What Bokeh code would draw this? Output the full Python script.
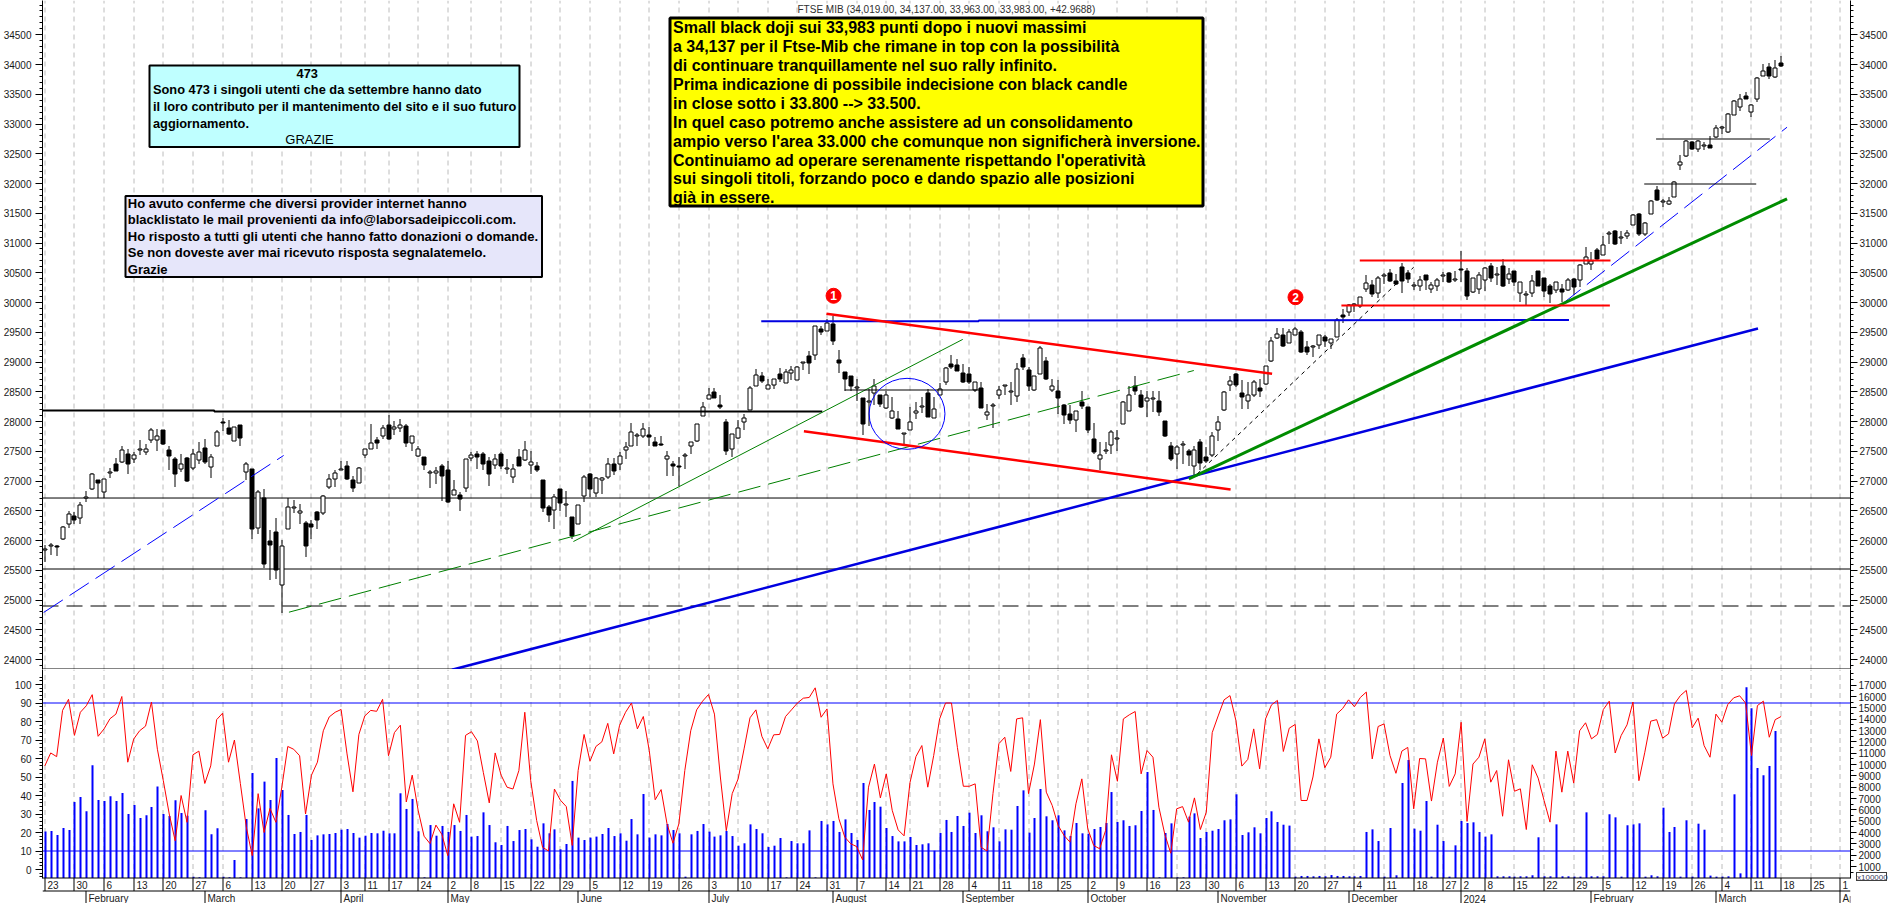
import math
from bokeh.plotting import figure
from bokeh.layouts import column
from bokeh.models import Range1d, LinearAxis, FixedTicker, Div
from bokeh.core.properties import value
from bokeh.embed import file_html
from bokeh.resources import INLINE

opens = [25840,25910,25910,26030,26270,26410,26370,26710,26870,27010,
26820,27130,27290,27320,27460,27370,27520,27490,27690,27690,
27860,27520,27370,27200,27390,27220,27360,27560,27230,27590,
27980,27890,27680,27940,27150,27200,26210,26720,25990,26140,
25260,26190,26540,26460,26300,26280,26480,26460,26900,27040,
27190,27260,27020,26970,27430,27540,27690,27750,27940,27870,
27890,27930,27640,27420,27400,27130,27130,27260,27180,26760,
26770,26880,27380,27460,
27450,27330,27270,27460,27200,27060,27400,27360,27270,27250,
27010,26570,26510,26870,26600,26400,26280,26750,27120,26800,
27020,27060,27290,27290,27520,27590,27760,27760,27765,27660,
27625,27370,27280,27260,27420,27580,27680,28100,28380,28490,
28280,27990,27540,27730,27990,28200,28600,28770,28550,28620,
28800,28650,28820,28700,28990,29100,29120,29550,29520,29640,
29040,28830,28770,28570,28400,28330,28480,28450,28220,28060,
28050,27790,27860,28150,28250,28480,28060,28440,28660,28960,
28950,
28820,28800,28530,28570,28110,28260,28450,28600,28490,28430,
29060,28870,28530,28800,29010,28530,28520,28270,28120,28030,
28320,28250,27710,27370,27510,27610,27710,27960,28170,28590,
28440,28340,28380,28350,28010,27580,27460,27600,27500,27250,
27650,27400,27430,27850,28200,28620,28790,28480,28340,28440,
28570,28630,29020,29400,29460,29320,29460,29510,29260,29250,
29290,29420,29320,29420,29790,29840,29960,29940,30220,30300,
30160,30450,30500,30360,30600,30500,30275,30275,30465,30220,
30275,
30440,30500,30380,30560,30530,30175,30230,30380,30610,30470,
30610,30400,30530,30160,30120,30160,30530,30415,30285,30215,
30225,30215,30400,30380,30650,30640,30885,30800,31155,31195,
31080,31125,31310,31490,31155,31490,31895,31685,31655,31770,
32310,32455,32700,32580,32635,32650,32780,32925,32865,33155,
33285,33475,33200,33420,33810,33955,33790,34019]

highs = [25920,25950,25920,26240,26490,26480,26640,26840,27130,27020,
27040,27220,27390,27590,27540,27480,27690,27620,27890,27880,
27860,27580,27410,27460,27400,27540,27660,27710,27450,27850,
28060,28030,27900,27940,27320,27200,26850,26860,26180,26380,
26010,26720,26680,26620,26320,26350,26490,26760,27110,27190,
27330,27340,27090,27230,27540,27950,27740,27940,28110,28010,
28050,27950,27760,27590,27400,27190,27240,27290,27340,27020,
26820,27370,27480,27510,
27480,27400,27450,27480,27370,27280,27540,27680,27500,27320,
27010,26590,26780,26870,26830,26400,26600,27100,27130,27060,
27060,27390,27390,27490,27650,27980,27800,27980,27900,27740,
27750,27510,27330,27400,27470,27650,27960,28330,28570,28570,
28440,28040,27790,28020,28120,28590,28890,28840,28720,28710,
28900,28890,28930,28930,28990,29180,29610,29610,29730,29780,
29210,28830,28770,28710,28400,28550,28710,28450,28520,28420,
28180,27800,28240,28320,28410,28550,28420,28650,28920,29120,
29050,
28970,28910,28670,28660,28300,28310,28590,28620,28660,28980,
29140,28920,28770,29270,29090,28720,28690,28300,28270,28170,
28520,28250,27970,27650,27650,27850,27850,28350,28590,28760,
28530,28520,28520,28520,28010,27650,27600,27670,27540,27580,
27710,27570,27820,28090,28520,28760,28820,28700,28660,28690,
28720,28930,29420,29570,29570,29560,29590,29540,29360,29290,
29460,29460,29380,29740,29890,29980,30000,30090,30470,30380,
30440,30490,30570,30480,30670,30540,30340,30450,30465,30340,
30415,
30510,30510,30530,30870,30580,30415,30510,30595,30670,30595,
30730,30580,30530,30340,30190,30470,30530,30415,30315,30340,
30315,30415,30415,30650,30940,30845,30920,31110,31200,31220,
31200,31220,31480,31500,31350,31715,31965,31745,31780,32045,
32480,32725,32710,32735,32695,32790,32990,32960,33190,33405,
33510,33535,33340,33790,34010,34030,34070,34137]

lows = [25640,25750,25740,26010,26210,26280,26270,26640,26850,26720,
26720,27050,27160,27310,27110,27300,27440,27440,27640,27500,
27610,27190,26900,27150,26980,27180,27290,27290,27050,27590,
27840,27780,27670,27590,27010,26030,26110,25540,25340,25350,
24780,26190,26460,26280,25720,26020,26200,26430,26870,26900,
27180,27020,26810,26970,27380,27530,27540,27710,27690,27770,
27820,27570,27500,27400,27180,26880,26950,26670,26630,26760,
26500,26810,27330,27210,
27190,26910,27200,27200,27120,26970,27250,27340,27120,27150,
26480,26310,26200,26500,26400,26030,26280,26650,26730,26730,
26780,27030,27100,27180,27370,27580,27580,27730,27580,27590,
27580,27090,27080,26910,27200,27460,27650,28090,28380,28400,
28210,27440,27400,27710,27860,28200,28600,28650,28550,28550,
28660,28650,28690,28690,28860,28800,29040,29460,29520,29280,
28820,28510,28510,28340,27780,27920,28270,28250,28210,28040,
27870,27620,27850,28050,28150,28080,28060,28440,28610,28880,
28850,
28650,28630,28490,28220,28020,27890,28380,28440,28270,28330,
28860,28520,28520,28790,28690,28490,28120,27960,27950,27820,
28210,27800,27460,27180,27460,27460,27500,27950,28170,28450,
28220,28080,28160,28100,27740,27340,27200,27290,27260,27090,
27180,27300,27400,27680,28180,28520,28580,28210,28210,28410,
28410,28620,29000,29390,29260,29320,29450,29150,29110,29090,
29220,29250,29220,29420,29650,29770,29840,29910,30170,30090,
30080,30310,30340,30290,30160,30330,30210,30200,30210,30160,
30200,
30340,30330,30340,30340,30050,30160,30135,30200,30340,30300,
30260,30315,30285,30005,29965,30090,30275,30090,29990,30160,
30005,30190,30120,30260,30650,30540,30720,30790,30985,30960,
30985,31060,31295,31125,31110,31480,31705,31600,31640,31770,
32220,32445,32565,32530,32555,32595,32760,32835,32845,33145,
33215,33420,33125,33370,33800,33755,33775,33963]

closes = [25850,25920,25890,26230,26450,26350,26600,26720,27110,26970,
27030,27140,27170,27520,27290,27440,27530,27540,27860,27760,
27630,27420,27120,27290,27000,27460,27490,27320,27410,27830,
27970,27790,27900,27730,27290,26200,26810,25600,25930,25510,
25910,26560,26550,26500,25910,26230,26350,26750,27030,27130,
27190,27030,26880,27220,27530,27640,27640,27890,27700,27910,
27940,27640,27760,27540,27270,27140,27170,27080,26640,26850,
26690,27370,27440,27400,
27290,27110,27370,27250,27210,27200,27250,27520,27320,27180,
26540,26430,26730,26630,26600,26070,26600,27070,26860,27050,
27050,27290,27170,27420,27570,27830,27760,27880,27740,27590,
27600,27420,27250,27240,27430,27650,27950,28240,28440,28400,
28240,27510,27790,27890,28060,28570,28780,28680,28610,28710,
28710,28830,28870,28910,28990,28990,29600,29510,29650,29360,
28980,28710,28590,28570,27950,28330,28590,28290,28440,28170,
27880,27790,27990,28180,28250,28080,28210,28550,28900,28920,
28850,
28660,28660,28670,28220,28160,28260,28530,28600,28490,28890,
28910,28590,28770,29240,28710,28590,28400,28110,28020,28170,
28260,27850,27480,27440,27510,27830,27710,28330,28440,28510,
28240,28400,28380,28160,27760,27370,27570,27600,27440,27520,
27300,27340,27760,27990,28500,28680,28610,28410,28440,28670,
28510,28930,29350,29470,29270,29510,29550,29160,29160,29250,
29450,29350,29380,29700,29750,29950,29960,30090,30330,30150,
30410,30450,30360,30310,30360,30400,30275,30380,30370,30300,
30370,
30440,30340,30380,30545,30110,30415,30455,30580,30415,30470,
30270,30480,30340,30340,30120,30360,30285,30190,30145,30340,
30175,30380,30260,30635,30760,30705,30730,30970,31155,30975,
31080,31170,31470,31145,31340,31705,31730,31685,31710,32020,
32360,32710,32580,32710,32635,32595,32935,32925,33170,33380,
33420,33420,33320,33775,33890,33800,33945,33983]

oscillator = [56,63,61,86,92,72.5,85,88.5,94.5,72,76,81.5,84,93.5,58,70.5,75,77.5,90.5,65,
48,30,15.5,40,25.5,62,64,46.5,56,81,84.5,58,70,46.5,23,7.5,41,20,33,25.5,
44.5,66.5,65,61.5,30,51,58,75,82.5,85,86.5,62.5,42,73,83,86,85.5,92,61.5,74,
78,36.5,51,32,18,14,24,19,7.5,35.5,25.5,72.5,74.5,69.5,52.5,36,63,51,44.5,43.5,
53.5,85,48,26.5,12,10,43.5,37.5,34,13,53.5,73,58.5,66.5,69,79,62.5,78,85,
90,76,82.7,64.3,37.7,43.2,24.7,14.2,24.7,53.5,75,86.3,91,94.6,84,50,21,41,49,65.2,82,
86.3,72,65.2,72.8,73,82.7,86.3,90,92.6,93,98.2,82.3,86.8,46.3,27.4,17.5,13.9,12.4,5.2,44.5,
57,38.7,51.7,32,21.4,18.2,47,61,67,44.5,61.6,81.4,90,90,66,45,45,46.3,12,10,
41,68,71.5,53,81.4,82,41,57,81,41.8,34.6,23.8,18.4,14.8,35.5,49,22,13,11.2,21,
62,47.7,81.4,83.6,85.4,51.7,64.3,60.7,33.7,19,8.8,32.8,34,25.6,38.7,21.6,31,74,83,91.7,
94,80.5,55.9,59.5,76,54.4,81.4,89,91.4,63.8,76.4,78.4,37.3,37.3,50,70.6,55,60.7,84,87,
91.7,88,93,95.9,59.8,77.3,78.7,61.6,52,64,66,32.8,60,59.8,37,58,71,44.9,51.7,79.6,
26,57,60.7,70.6,47.2,53.5,28.8,59.3,42.3,43.6,21.6,56.6,49.4,37.3,25.6,64,41.8,64,46.7,75,
79.3,70.6,73,86.5,91,63,72.4,78.2,90.5,48,63.4,80.2,81,71,73.3,89.5,94,96.8,76.6,81.8,
67,60.7,84,79.6,89.2,92.8,93.9,90,61.6,88.6,91,71.5,81,82.7]

volume = [4090,4150,3790,4410,4230,6700,7140,5880,9940,6880,6790,7200,6790,7500,5640,6440,5290,5530,6260,8060,
5640,5470,6850,5730,5500,100,60,5970,3850,4380,120,60,1590,60,5200,9260,6140,8500,6880,10580,
7760,5560,3880,4060,5560,3350,3760,3850,3880,3970,4260,4320,3970,3560,3730,3970,3940,4170,3940,3940,
7470,6090,6970,4120,60,4670,3730,4590,4060,4670,4150,5560,3650,3700,5790,4670,3150,2910,4590,3260,
4230,4320,3410,2760,4820,3940,4290,2530,3000,8560,3560,3350,3560,3650,3880,4410,3700,3940,3290,
5200,3850,7410,3560,3850,3760,4760,4230,3940,120,3850,4150,4760,4090,3650,3760,4150,3700,2850,3060,
4730,4320,3940,2730,2850,3530,60,3260,3060,3060,4200,60,5030,4730,5030,4060,5170,3970,3350,8380,
6000,6700,6290,4410,3700,3230,3230,3620,2910,2970,3060,2410,3970,5120,4060,5470,4590,5760,3970,5530,
4120,4470,3230,4290,4260,6350,7730,4000,5290,7850,5440,5090,5530,4200,3700,4850,3940,3910,4320,4500,
4850,7580,4940,5090,4590,4650,5910,9350,6000,60,3970,4820,60,60,5410,5700,3530,4060,4170,4320,
5090,5170,7380,3790,4030,4470,3940,5290,5880,4940,4700,4620,120,180,180,150,180,150,260,180,
180,150,150,180,4060,4290,3260,120,4410,240,8380,10400,4350,4170,6790,120,4700,3260,120,2880,
5030,4850,4910,4060,3650,3850,150,150,150,120,150,150,240,3590,150,150,4730,150,150,120,
120,5790,150,150,150,5620,5350,120,4650,4730,4820,120,240,150,6200,4060,4500,120,5090,120,
4790,4260,210,120,120,150,7380,410,16820,14960,9700,9060,9880,12970,0]

day_ticks = [0,5,10,15,20,25,30,35,40,45,50,54,58,63,68,72,77,82,87,92,
97,102,107,112,117,122,127,132,137,142,146,151,156,161,166,171,176,181,186,191,
196,201,206,211,216,221,226,231,236,239,243,248,253,258,263,268,273,278,283,288,293,298,303]
day_labels = ["23","30","6","13","20","27","6","13","20","27","3","11","17","24","2","8","15","22","29","5",
"12","19","26","3","10","17","24","31","7","14","21","28","4","11","18","25","2","9","16","23",
"30","6","13","20","27","4","11","18","27","2","8","15","22","29","5","12","19","26","4","11","18","25","1"]
month_ticks = [7,27,50,68,90,112,133,155,176,198,220,239,261,282,303]
month_labels = ["February","March","April","May","June","July","August","September","October","November","December","2024","February","March","Ap"]

price_levels = [26714, 25521]
dashed_level = 24899
panel_floor = 23840
osc_levels = [90, 10]

heavy_black_x = [-0.39,28.6,28.6,131.2]
heavy_black_y = [28185,28185,28170,28170]
blue_dash_a = ([-0.2,40.3],[24790,27429])
blue_dash_b = ([256.1,294.0],[29978,32946])
green_thin = ([89.2,154.9],[25983,29380])
green_dash = ([41.2,193.9],[24795,28857])
red_upper = ([131.9,207.1],[29810,28802])
red_lower = ([128.1,200.1],[27837,26857])
blue_flat = ([120.9,157.6,157.6,257.2],[29686,29686,29697,29706])
blue_long = ([68.7,289.1],[23827,29563])
green_thick = ([193.05,294.0],[27037,31743])
black_dash = ([194.5,231.0],[27121,30593])
red_flat_top = ([221.9,264.2],[30706,30706])
red_flat_bottom = ([218.8,264.1],[29950,29950])
black_flats = [([269.9,288.8],[31995,31995]),([271.9,291.1],[32751,32751]),([135.0,157.9],[28533,28533])]
circle_pos = (145.5, 28129, 12.8, 1193)
markers = [(133.1,30113,"1"),(211.05,30089,"2")]

title_text = "FTSE MIB (34,019.00, 34,137.00, 33,963.00, 33,983.00, +42.9688)"
yellow_lines = ["Small black doji sui 33,983 punti dopo i nuovi massimi",
"a 34,137 per il Ftse-Mib che rimane in top con la possibilità",
"di continuare tranquillamente nel suo rally infinito.",
"Prima indicazione di possibile indecisione con black candle",
"in close sotto i 33.800 --> 33.500.",
"In quel caso potremo anche assistere ad un consolidamento",
"ampio verso l'area 33.000 che comunque non significherà inversione.",
"Continuiamo ad operare serenamente rispettando l'operatività",
"sui singoli titoli, forzando poco e dando spazio alle posizioni",
"già in essere."]
cyan_lines = ["Sono 473 i singoli utenti che da settembre hanno dato",
"il loro contributo per il mantenimento del sito e il suo futuro",
"aggiornamento."]
lav_lines = ["Ho avuto conferme che diversi provider internet hanno",
"blacklistato le mail provenienti da info@laborsadeipiccoli.com.",
"Ho risposto a tutti gli utenti che hanno fatto donazioni o domande.",
"Se non doveste aver mai ricevuto risposta segnalatemelo.",
"Grazie"]

# page-pixel helpers, used for layout and for snapping to whole pixels
X0, DX = 44.3, 5.926
def ix(x): return (x - X0) / DX
def py(y): return 34000 - (y - 64) / 0.0595
def oy(y): return (869 - y) / 1.85
def px_x(i): return math.floor(X0 + DX * i) + 0.5
def snap_i(i): return ix(px_x(i))
def px_y(v): return math.floor(64 + (34000 - v) * 0.0595) + 0.5

FONT = value("Liberation Sans")
n = len(closes)
xs = list(range(n))
AXC = "#1a1a1a"
GRID = "#bcbcbc"
XL, XR = ix(42), ix(1850)

p = figure(width=1890, height=669, x_range=Range1d(XL, XR), y_range=Range1d(py(669), py(0)),
           output_backend="svg", toolbar_location=None, min_border=0, min_border_left=42, min_border_right=40,
           min_border_top=0, min_border_bottom=0, outline_line_color=None, x_axis_location=None, y_axis_location=None)
p.grid.visible = False

price_ticks = list(range(24000, 35000, 500))
price_minor = list(range(23900, 35100, 100))
for side, standoff in (("left", 4), ("right", 2)):
    ax = LinearAxis(ticker=FixedTicker(ticks=price_ticks, minor_ticks=price_minor))
    ax.major_tick_in = 0; ax.major_tick_out = 7; ax.minor_tick_in = 0; ax.minor_tick_out = 3
    ax.major_label_text_font = "Liberation Sans"; ax.major_label_text_font_size = "10px"
    ax.major_label_text_color = AXC; ax.major_label_standoff = standoff
    p.add_layout(ax, side)

grid_x = [snap_i(t) for t in day_ticks]
p.segment(x0=grid_x, x1=grid_x, y0=[py(669)]*len(grid_x), y1=[py(0)]*len(grid_x),
          line_color=GRID, line_width=1, line_dash="5 4")

for lv in price_levels + [panel_floor]:
    p.line([XL, XR], [lv, lv], line_color="black", line_width=1)
p.line([XL, XR], [dashed_level, dashed_level], line_color="black", line_width=1, line_dash="16 8")

# candles, snapped to whole pixels as the original GDI drawing is
wick_x = [snap_i(i) for i in xs]
p.segment(x0=wick_x, x1=wick_x, y0=[py(px_y(v)) for v in lows], y1=[py(px_y(v)) for v in highs],
          line_color="black", line_width=1)
def body(idx, fill):
    tops, bots = [], []
    for i in idx:
        a, b = sorted((px_y(opens[i]), px_y(closes[i])))
        if a == b:
            a -= 1
        tops.append(py(a)); bots.append(py(b))
    p.quad(left=[ix(px_x(i) - 2) for i in idx], right=[ix(px_x(i) + 2) for i in idx], top=tops, bottom=bots,
           fill_color=fill, line_color="black", line_width=1)
body([i for i in xs if closes[i] >= opens[i]], "white")
body([i for i in xs if closes[i] < opens[i]], "black")

# trend lines
p.line(heavy_black_x, heavy_black_y, line_color="black", line_width=2)
p.line(*blue_dash_a, line_color="#0000ff", line_width=1, line_dash="23 8")
p.line(*blue_dash_b, line_color="#0000ff", line_width=1, line_dash="23 8")
p.line(*green_thin, line_color="#008000", line_width=1)
p.line(*green_dash, line_color="#008000", line_width=1, line_dash="23 8")
p.line(*blue_long, line_color="#0000e0", line_width=2.5)
p.line(*blue_flat, line_color="#0000e0", line_width=2)
p.line(*green_thick, line_color="#008c00", line_width=3)
p.line(*red_upper, line_color="#ff0000", line_width=2.5)
p.line(*red_lower, line_color="#ff0000", line_width=2.5)
p.line(*red_flat_top, line_color="#ff0000", line_width=2)
p.line(*red_flat_bottom, line_color="#ff0000", line_width=2)
p.line(*black_dash, line_color="black", line_width=1, line_dash="4 4")
for fx, fy in black_flats:
    p.line(fx, [py(px_y(v)) for v in fy], line_color="black", line_width=1)
p.ellipse(x=[circle_pos[0]], y=[circle_pos[1]], width=[circle_pos[2]], height=[circle_pos[3]],
          fill_color=None, line_color="#0000ff", line_width=1)

for mx, my, mt in markers:
    p.scatter(x=[mx], y=[my], size=15, marker="circle", fill_color="#ff0000", line_color="#ff0000")
    p.text(x=[mx], y=[my], text=[mt], text_color="white", text_font=FONT, text_font_style="bold",
           text_font_size="12px", text_align="center", text_baseline="middle")

p.text(x=[ix(797)], y=[py(9.3)], text=[title_text], text_font=FONT, text_font_size="10px",
       text_color="#303030", text_baseline="middle", text_align="left")

def box(l, r, t, b, fill, lw):
    p.quad(left=[ix(l)], right=[ix(r)], top=[py(t)], bottom=[py(b)], fill_color=fill, line_color="black", line_width=lw)

def lines(txts, x, ys, size, align="left", style="bold"):
    p.text(x=[ix(x)]*len(txts), y=[py(v) for v in ys], text=txts, text_font=FONT, text_font_size=size,
           text_font_style=style, text_color="black", text_align=align, text_baseline="middle")

box(669.5, 1202.5, 17.5, 205.5, "#ffff00", 3)
lines(yellow_lines, 672.5, [27.3,46,65,84,103,121.7,140.7,160,178.3,197.3], "16px")

box(149, 519, 65, 146.5, "#bfffff", 2)
lines(["473"], 306.7, [72.7], "12.8px", "center")
lines(cyan_lines, 152.5, [89.3,106.3,122.7], "12.8px")
lines(["GRAZIE"], 309, [139], "13px", "center", "normal")

box(125, 541.5, 195.5, 276.5, "#e6e6fa", 2)
lines(lav_lines, 127.3, [203.3,219.3,236.3,252.3,269.3], "13px")

# lower panel
q = figure(width=1890, height=234, x_range=p.x_range, y_range=Range1d(oy(903), oy(669)),
           output_backend="svg", toolbar_location=None, min_border=0, min_border_left=42, min_border_right=40,
           min_border_top=0, min_border_bottom=0, outline_line_color=None, x_axis_location=None, y_axis_location=None)
q.grid.visible = False
q.extra_y_ranges = {"vol": Range1d(-(903 - 877.5) / 0.01134, (877.5 - 669) / 0.01134)}

osc_ax = LinearAxis(ticker=FixedTicker(ticks=list(range(0, 101, 10)), minor_ticks=list(range(-4, 105, 2))),
                    bounds=(oy(877.5), oy(669)))
osc_ax.major_tick_in = 0; osc_ax.major_tick_out = 7; osc_ax.minor_tick_in = 0; osc_ax.minor_tick_out = 3
osc_ax.major_label_text_font = "Liberation Sans"; osc_ax.major_label_text_font_size = "10px"
osc_ax.major_label_text_color = AXC; osc_ax.major_label_standoff = 4
q.add_layout(osc_ax, "left")

vol_ax = LinearAxis(y_range_name="vol", ticker=FixedTicker(ticks=list(range(1000, 18000, 1000)),
                                                           minor_ticks=list(range(500, 18500, 500))),
                    bounds=(0, (877.5 - 669) / 0.01134))
vol_ax.major_tick_in = 0; vol_ax.major_tick_out = 6; vol_ax.minor_tick_in = 0; vol_ax.minor_tick_out = 3
vol_ax.major_label_text_font = "Liberation Sans"; vol_ax.major_label_text_font_size = "10px"
vol_ax.major_label_text_color = AXC; vol_ax.major_label_standoff = 2
q.add_layout(vol_ax, "right")

q.segment(x0=grid_x, x1=grid_x, y0=[oy(877.5)]*len(grid_x), y1=[oy(669)]*len(grid_x),
          line_color=GRID, line_width=1, line_dash="5 4")
q.quad(left=[ix(math.floor(X0 + DX * i)) for i in xs], right=[ix(math.floor(X0 + DX * i) + 2) for i in xs],
       bottom=[0]*n, top=volume, fill_color="#0000ff", line_color=None, y_range_name="vol")
for lv in osc_levels:
    q.line([XL, XR], [lv, lv], line_color="#0000ff", line_width=1)
q.line(xs, oscillator, line_color="#ff0000", line_width=1)

q.segment(x0=[XL, XL], x1=[XR, XR], y0=[oy(877.5), oy(890.5)], y1=[oy(877.5), oy(890.5)], line_color="black", line_width=1)
q.segment(x0=grid_x, x1=grid_x, y0=[oy(877.5)]*len(grid_x), y1=[oy(890.5)]*len(grid_x), line_color="black", line_width=1)
month_x = [snap_i(t) for t in month_ticks]
q.segment(x0=month_x, x1=month_x, y0=[oy(890.5)]*len(month_x), y1=[oy(903)]*len(month_x), line_color="black", line_width=1)
q.text(x=grid_x, y=[oy(884.3)]*len(grid_x), text=day_labels, x_offset=2.5, text_font=FONT, text_font_size="10px",
       text_color=AXC, text_baseline="middle", text_align="left")
q.text(x=month_x, y=[oy(898)]*len(month_x), text=month_labels, x_offset=2.5, text_font=FONT, text_font_size="10px",
       text_color=AXC, text_baseline="middle", text_align="left")

unit_box = Div(text="x100000", width=31, height=9,
               styles={"position": "absolute", "left": "1851px", "top": "867px", "background": "white",
                       "border": "1px solid #404040", "font": "8px 'Liberation Sans'", "color": "#404060",
                       "line-height": "9px", "text-align": "center", "z-index": "5"})

layout = column(p, q, unit_box, spacing=0, styles={"position": "absolute", "left": "0px", "top": "0px"})
open("out.html", "w").write(file_html(layout, INLINE))
